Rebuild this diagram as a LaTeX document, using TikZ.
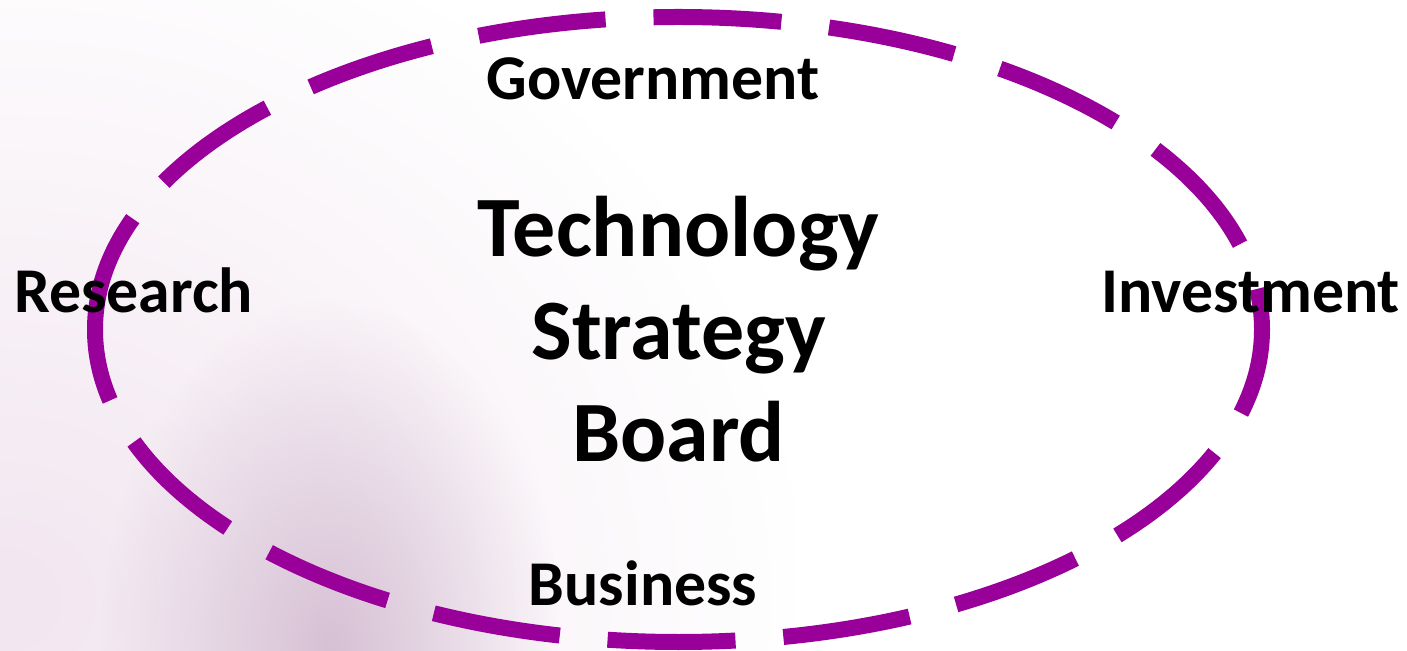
\documentclass[tikz,border=0pt]{standalone}
\usepackage{fontspec}
\setmainfont{Carlito}
\usetikzlibrary{fadings}
\definecolor{purp}{HTML}{990099}
\definecolor{bgpink}{HTML}{F2E6F0}
\definecolor{blob}{HTML}{D6C0D4}
\tikzfading[name=softglow, inner color=transparent!0, outer color=transparent!100]
\begin{document}
\begin{tikzpicture}[x=0.5pt,y=-0.5pt,
  big/.style={font=\fontsize{43}{51}\selectfont\bfseries, anchor=base, inner sep=0pt},
  lab/.style={font=\fontsize{31.9}{36}\selectfont\bfseries, anchor=base, inner sep=0pt},
  ring/.style={draw=purp, line width=8pt, dash pattern=on 64pt off 24pt, dash phase=4.5pt}]
\useasboundingbox (0,0) rectangle (1407,651);
% background
\fill[white] (0,0) rectangle (1407,651);
\fill[bgpink, path fading=softglow] (-800,-100) rectangle (800,1300);
\fill[blob, path fading=softglow] (100,300) rectangle (560,1000);
% ring (starts at the left point, runs over the top)
\coordinate (c) at (678.5,329.5);
\draw[ring] ([xshift=-291.75pt]c) arc[start angle=180, end angle=-180, x radius=291.75pt, y radius=156.25pt];
% text
\node[big] (tech) at (678.5,257) {Technology};
\node[big] (strat) at (678.5,360) {Strategy};
\node[big] (board) at (678.5,462) {Board};
\node[lab] (gov) at (653,100) {Government};
\node[lab] (res) at (133.5,313) {Research};
\node[lab] (inv) at (1250.5,313) {Investment};
\node[lab] (bus) at (643,605) {Business};
\end{tikzpicture}
\end{document}
